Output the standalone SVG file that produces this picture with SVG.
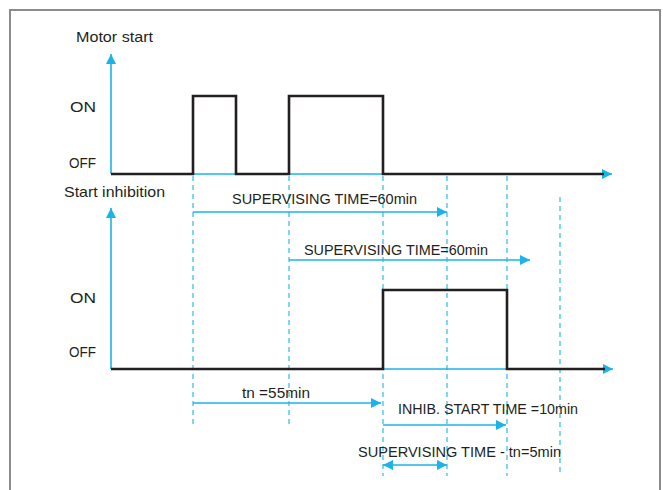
<svg xmlns="http://www.w3.org/2000/svg" width="663" height="490" viewBox="0 0 663 490">
<defs>
<marker id="ah" viewBox="0 0 10 10" refX="10" refY="5" markerWidth="10" markerHeight="10" markerUnits="userSpaceOnUse" orient="auto-start-reverse">
<path d="M0,0 L10,5 L0,10 Z" fill="#1AB4E8"/>
</marker>
</defs>
<style>
text{font-family:"Liberation Sans",Arial,sans-serif;font-size:14.5px;fill:#231F20}
.ax{stroke:#1AB4E8;stroke-width:1.6;fill:none}
.ar{stroke:#1AB4E8;stroke-width:1.4;fill:none}
.dash{stroke:#1AB4E8;stroke-width:1.1;stroke-dasharray:5 4;fill:none}
.sig{stroke:#231F20;stroke-width:2.6;fill:none;stroke-linejoin:miter}
</style>
<rect x="0" y="0" width="663" height="490" fill="#ffffff"/>
<path d="M10,491 V10 H660 V491" fill="none" stroke="#8C8C8C" stroke-width="2"/>
<g id="connectors">
<line class="dash" x1="193" y1="176" x2="193" y2="428"/>
<line class="dash" x1="289" y1="176" x2="289" y2="428"/>
<line class="dash" x1="383" y1="176" x2="383" y2="476"/>
<line class="dash" x1="447" y1="176" x2="447" y2="476"/>
<line class="dash" x1="507" y1="176" x2="507" y2="476"/>
<line class="dash" x1="560" y1="197" x2="560" y2="476"/>
<line class="ar" x1="193" y1="212" x2="447" y2="212" marker-end="url(#ah)"/>
<line class="ar" x1="289" y1="260" x2="530" y2="260" marker-end="url(#ah)"/>
<line class="ar" x1="193" y1="403" x2="381" y2="403" marker-end="url(#ah)"/>
<line class="ar" x1="383" y1="425" x2="506" y2="425" marker-end="url(#ah)"/>
<line class="ar" x1="383" y1="465" x2="447" y2="465" marker-start="url(#ah)" marker-end="url(#ah)"/>
</g>
<g id="motor-start">
<path class="ax" d="M111,174 V54" marker-end="url(#ah)"/>
<path class="ax" d="M111,174 H612" marker-end="url(#ah)"/>
<path class="sig" d="M111,174 H193 V96 H236 V174 H289 V96 H383 V174 H604"/>
<text x="76" y="42" textLength="77" lengthAdjust="spacingAndGlyphs">Motor start</text>
<text x="70" y="112" textLength="26" lengthAdjust="spacingAndGlyphs">ON</text>
<text x="69" y="168" textLength="27" lengthAdjust="spacingAndGlyphs">OFF</text>
</g>
<g id="start-inhibition">
<path class="ax" d="M111,369 V208" marker-end="url(#ah)"/>
<path class="ax" d="M111,369 H613" marker-end="url(#ah)"/>
<path class="sig" d="M111,369 H383 V290 H507 V369 H605"/>
<text x="64" y="197" textLength="101" lengthAdjust="spacingAndGlyphs">Start inhibition</text>
<text x="70" y="303" textLength="26" lengthAdjust="spacingAndGlyphs">ON</text>
<text x="69" y="357" textLength="27" lengthAdjust="spacingAndGlyphs">OFF</text>
</g>
<g id="labels">
<text x="232" y="204" textLength="185" lengthAdjust="spacingAndGlyphs">SUPERVISING TIME=60min</text>
<text x="304" y="255" textLength="184" lengthAdjust="spacingAndGlyphs">SUPERVISING TIME=60min</text>
<text x="242" y="398" textLength="68" lengthAdjust="spacingAndGlyphs">tn =55min</text>
<text x="398" y="414" textLength="180" lengthAdjust="spacingAndGlyphs">INHIB. START TIME =10min</text>
<text x="358" y="457" textLength="203" lengthAdjust="spacingAndGlyphs">SUPERVISING TIME  - tn=5min</text>
</g>
</svg>
